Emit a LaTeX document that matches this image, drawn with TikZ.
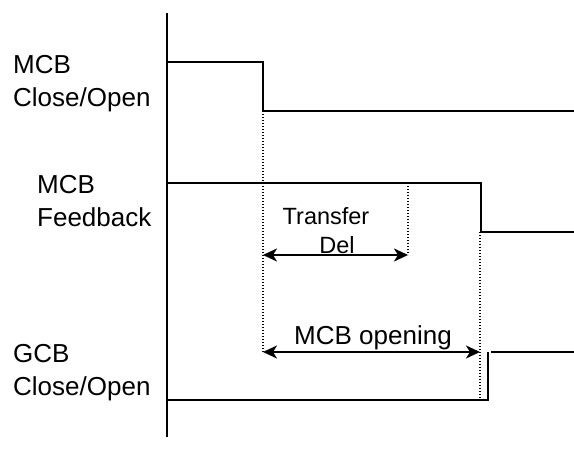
\documentclass[tikz,border=0pt]{standalone}
\usepackage{fontspec}
\setmainfont{Liberation Sans}
\usetikzlibrary{arrows.meta}
\begin{document}
\begin{tikzpicture}[x=1pt,y=-1pt,
  signal/.style={line width=2.2pt, line join=miter},
  guide/.style={line width=1.3pt, dash pattern=on 1.3pt off 1.7pt},
  span/.style={line width=2.2pt, {Stealth[length=14pt,width=13pt,inset=4pt]}-{Stealth[length=14pt,width=13pt,inset=4pt]}},
  lbl/.style={inner sep=0pt, align=left, anchor=north west, font=\fontsize{26}{33}\selectfont},
  note/.style={inner sep=0pt, align=center, font=\fontsize{26}{33}\selectfont}]
\useasboundingbox (0,0) rectangle (574,465);
% coordinates
\coordinate (axT) at (167,13);
\coordinate (axB) at (167,437);
\coordinate (m0) at (167,62);
\coordinate (m1) at (263,62);
\coordinate (m2) at (263,111);
\coordinate (m3) at (574,111);
\coordinate (f0) at (167,183);
\coordinate (f1) at (481,183);
\coordinate (f2) at (481,232);
\coordinate (f3) at (574,232);
\coordinate (g0) at (167,400);
\coordinate (g1) at (488,400);
\coordinate (g2) at (488,352);
\coordinate (g3) at (491,352);
\coordinate (g4) at (574,352);
\coordinate (d1a) at (263,111);
\coordinate (d1b) at (263,352);
\coordinate (d2a) at (408,183);
\coordinate (d2b) at (408,255);
\coordinate (d3a) at (480,232);
\coordinate (d3b) at (480,400);
\coordinate (t0) at (263,255);
\coordinate (t1) at (408,255);
\coordinate (o0) at (263,352);
\coordinate (o1) at (480,352);
% axis
\draw[signal] (axT) -- (axB);
% signals
\draw[signal] (m0) -- (m1) -- (m2) -- (m3);
\draw[signal] (f0) -- (f1) -- (f2) -- (f3);
\draw[signal] (g0) -- (g1) -- (g2);
\draw[signal] (g3) -- (g4);
% guides
\draw[guide] (d1a) -- (d1b);
\draw[guide] (d2a) -- (d2b);
\draw[guide] (d3a) -- (d3b);
% spans
\draw[span] (t0) -- (t1);
\draw[span] (o0) -- (o1);
% labels
\node[lbl] (lm) at (13,55) {MCB\\Close/Open};
\node[lbl] (lf) at (37,175) {MCB\\Feedback};
\node[lbl] (lg) at (13,344) {GCB\\Close/Open};
\node[note, font=\fontsize{23.5}{29.5}\selectfont, anchor=north] (ltd) at (326,207) {Transfer\\\hspace*{22pt}Del};
\node[note, anchor=base] (lmo) at (373,345) {MCB opening};
\end{tikzpicture}
\end{document}
